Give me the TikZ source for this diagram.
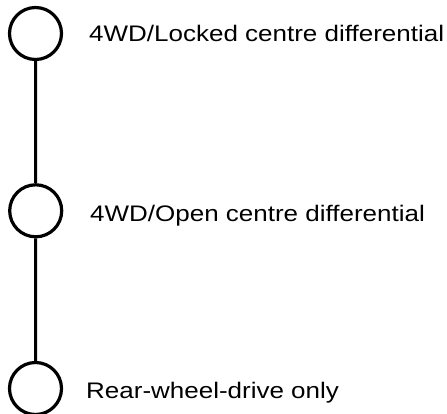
\documentclass[tikz,border=0pt]{standalone}
\usepackage{fontspec}
\setmainfont{Liberation Sans}
\begin{document}
\begin{tikzpicture}[x=1pt,y=-1pt,
  state/.style={circle,draw=black,line width=3.2pt,minimum size=52pt,inner sep=0pt},
  conn/.style={draw=black,line width=3pt},
  lab/.style={anchor=base west,inner sep=0pt,font=\fontsize{22.5}{26}\selectfont}]
\path[use as bounding box,clip] (0,0) rectangle (447,414);
\node[state] (locked) at (35.5,33.5) {};
\node[state] (open) at (35.7,210.8) {};
\node[state] (rwd) at (35.5,388.5) {};
\draw[conn] (locked.south) -- (open.north);
\draw[conn] (open.south) -- (rwd.north);
\node[lab] (t1) at (89,42) {\scalebox{1.155}[1]{4WD/Locked centre differential}};
\node[lab] (t2) at (90,222) {\scalebox{1.155}[1]{4WD/Open centre differential}};
\node[lab] (t3) at (86,398) {\scalebox{1.155}[1]{Rear-wheel-drive only}};
\end{tikzpicture}
\end{document}
